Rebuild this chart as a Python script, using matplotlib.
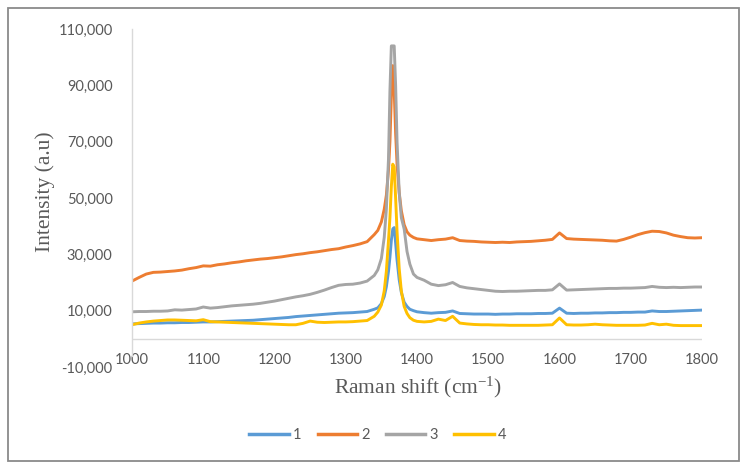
import matplotlib
matplotlib.use("Agg")
import matplotlib.pyplot as plt
from matplotlib.patches import Rectangle
from matplotlib.ticker import FuncFormatter

plt.rcParams["mathtext.fontset"] = "custom"
plt.rcParams["mathtext.rm"] = "Liberation Serif"
plt.rcParams["mathtext.it"] = "Liberation Serif:italic"
plt.rcParams["axes.unicode_minus"] = False

# ---- data ----
x_left = [1000, 1010, 1020, 1030, 1040, 1050, 1060, 1070, 1080, 1090, 1100, 1110, 1120, 1130,
          1140, 1150, 1160, 1170, 1180, 1190, 1200, 1210, 1220, 1230, 1240, 1250, 1260, 1270,
          1280, 1290, 1300, 1310, 1320, 1330]
x_peak = [1340, 1345, 1350, 1354, 1357, 1360, 1362, 1364, 1366, 1368, 1370, 1372, 1375, 1378,
          1382, 1386, 1390, 1395, 1400]
x_right = [1410, 1420, 1430, 1440, 1450, 1460, 1470, 1480, 1490, 1500, 1510, 1520, 1530, 1540,
           1550, 1560, 1570, 1580, 1590, 1600, 1610, 1620, 1630, 1640, 1650, 1660, 1670, 1680,
           1690, 1700, 1710, 1720, 1730, 1740, 1750, 1760, 1770, 1780, 1790, 1800]
raman_shift = x_left + x_peak + x_right

series_1 = [5300, 5400, 5500, 5600, 5600, 5700, 5700, 5800, 5800, 5900, 6000, 6000, 6100, 6200,
            6300, 6400, 6500, 6600, 6800, 7000, 7200, 7400, 7600, 7900, 8100, 8300, 8500, 8700,
            8900, 9100, 9200, 9300, 9500, 9700,
            10500, 11000, 12500, 15000, 18500, 24000, 29000, 35000, 39000, 39500, 34000, 28000,
            21000, 16500, 13000, 11500, 10500, 10000, 9600,
            9300, 9100, 9300, 9400, 9900, 9000, 8900, 8800, 8800, 8800, 8700, 8800, 8800, 8900,
            8900, 8900, 9000, 9000, 9100, 10900, 9100, 9000, 9100, 9100, 9200, 9200, 9300, 9300,
            9400, 9400, 9500, 9500, 9900, 9700, 9700, 9800, 9900, 10000, 10100, 10200]

series_2 = [20500, 21800, 23000, 23600, 23700, 23900, 24100, 24400, 24900, 25300, 25900, 25800,
            26300, 26600, 27000, 27300, 27700, 28000, 28300, 28500, 28800, 29100, 29500, 29900,
            30200, 30600, 30900, 31300, 31700, 32000, 32600, 33100, 33700, 34500,
            37000, 38500, 41500, 46000, 51000, 60000, 70000, 86000, 97000, 88000, 73000, 62000,
            52000, 45500, 40500, 38000, 36800, 36000, 35500,
            35200, 34900, 35200, 35400, 35900, 34900, 34700, 34600, 34400, 34300, 34200, 34300,
            34200, 34400, 34500, 34600, 34800, 35000, 35300, 37600, 35600, 35400, 35300, 35200,
            35100, 35000, 34800, 34700, 35300, 36100, 37000, 37700, 38200, 38100, 37600, 36800,
            36300, 35900, 35800, 35900]

series_3 = [9600, 9700, 9700, 9800, 9800, 9900, 10300, 10200, 10400, 10600, 11300, 10900, 11100,
            11400, 11700, 11900, 12100, 12300, 12600, 13000, 13400, 13900, 14400, 14900, 15300,
            15800, 16500, 17300, 18200, 19000, 19300, 19400, 19800, 20500,
            22500, 24500, 28500, 36000, 46000, 64000, 88000, 104000, 104000, 104000, 90000, 70000,
            52000, 43000, 39000, 31000, 26500, 23000, 21800,
            20800, 19400, 18900, 19200, 20000, 18600, 18100, 17800, 17500, 17200, 16900, 16800,
            16900, 16900, 17000, 17100, 17200, 17200, 17400, 19500, 17300, 17400, 17500, 17600,
            17700, 17800, 17900, 17900, 18000, 18000, 18100, 18200, 18600, 18300, 18200, 18300,
            18200, 18300, 18400, 18400]

series_4 = [5000, 5600, 6000, 6300, 6500, 6700, 6700, 6600, 6500, 6400, 6800, 6100, 6000, 5900,
            5800, 5700, 5600, 5500, 5400, 5300, 5200, 5100, 5000, 5000, 5500, 6300, 5900, 5800,
            5900, 6000, 6000, 6100, 6300, 6500,
            8000, 9500, 12000, 17000, 24000, 35000, 43000, 54000, 62000, 61000, 50000, 38000,
            25000, 17000, 11500, 9000, 7500, 6600, 6200,
            6000, 6200, 7000, 6500, 8000, 5600, 5300, 5100, 5000, 5000, 4900, 4900, 4800, 4800,
            4800, 4800, 4800, 4900, 5000, 7400, 5000, 4900, 4900, 5000, 5200, 5000, 4900, 4800,
            4800, 4800, 4800, 4900, 5500, 5000, 5200, 4800, 4700, 4700, 4700, 4700]

series_labels = ["1", "2", "3", "4"]
series_values = [series_1, series_2, series_3, series_4]
series_colors = ["#5B9BD5", "#ED7D31", "#A5A5A5", "#FFC000"]

x_ticks = [1000, 1100, 1200, 1300, 1400, 1500, 1600, 1700, 1800]
y_ticks = [-10000, 10000, 30000, 50000, 70000, 90000, 110000]

# ---- figure ----
W, H = 748, 470
fig = plt.figure(figsize=(W / 100, H / 100), dpi=100)
fig.patch.set_facecolor("white")

# outer chart border
fig.patches.append(Rectangle((8 / W, 1 - 461 / H), (739 - 8) / W, (461 - 8) / H,
                             transform=fig.transFigure, fill=False,
                             edgecolor="#8a8a8a", linewidth=1.3))

ax_l, ax_r, ax_t, ax_b = 132, 702, 29, 367
ax = fig.add_axes([ax_l / W, 1 - ax_b / H, (ax_r - ax_l) / W, (ax_b - ax_t) / H])

for vals, lab, col in zip(series_values, series_labels, series_colors):
    ax.plot(raman_shift, vals, color=col, lw=2.1, label=lab, solid_joinstyle="round")

ax.set_xlim(1000, 1800)
ax.set_ylim(-10000, 110000)
ax.set_xticks(x_ticks)
ax.set_yticks(y_ticks)
ax.yaxis.set_major_formatter(FuncFormatter(lambda v, p: f"{int(v):,}"))

for s in ["top", "right", "bottom"]:
    ax.spines[s].set_visible(False)
ax.spines["left"].set_color("#d9d9d9")
ax.spines["left"].set_linewidth(1.0)
ax.spines["left"].set_bounds(-6000, 110000)
ax.axhline(0, color="#d9d9d9", lw=1.0, zorder=0)

ax.tick_params(axis="both", length=0, colors="#595959")
ax.tick_params(axis="y", pad=14)
ax.tick_params(axis="x", pad=-10)
for lbl in ax.get_xticklabels() + ax.get_yticklabels():
    lbl.set_fontfamily(["Lato", "DejaVu Sans"])
    lbl.set_fontsize(10.5)
    lbl.set_color("#595959")

serif = ["Liberation Serif", "DejaVu Serif"]
fig.text(45 / W, 1 - 192 / H, "Intensity (a.u)", rotation=90, ha="center", va="center",
         family=serif, fontsize=15.5, color="#595959")
fig.text(418 / W, 1 - 387 / H, "Raman shift (cm$^{\\mathrm{-1}}$)", ha="center", va="center",
         family=serif, fontsize=15.5, color="#595959")

leg = fig.legend(loc="center", bbox_to_anchor=(378 / W, 1 - 435 / H), ncol=4, frameon=False,
                 handlelength=2.7, handletextpad=0.3, columnspacing=1.1,
                 prop=dict(family=["Lato", "DejaVu Sans"], size=10.5))
for t in leg.get_texts():
    t.set_color("#595959")
for h in leg.legend_handles:
    h.set_linewidth(2.5)

fig.savefig("out.png", dpi=100)
